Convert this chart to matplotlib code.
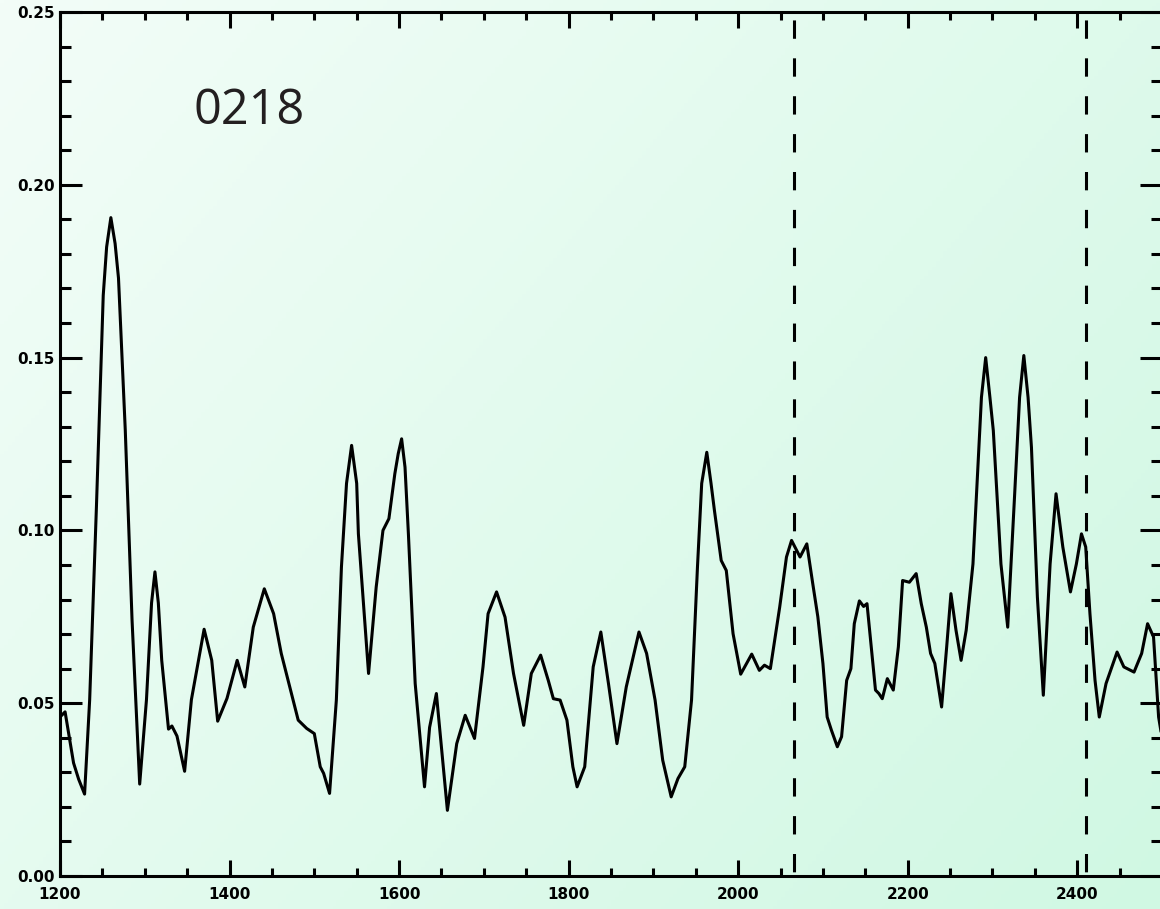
import numpy as np
import matplotlib
matplotlib.use("Agg")
import matplotlib.pyplot as plt
from matplotlib.ticker import MultipleLocator, FormatStrFormatter

# spectrum, read point by point
wave = [1200, 1206, 1216, 1222, 1229, 1235, 1243, 1251, 1255, 1260, 1265, 1269,
        1277, 1285, 1294, 1302, 1308, 1312, 1316, 1320, 1328, 1332, 1338, 1347, 1355, 1370,
        1379, 1386, 1397, 1409, 1418, 1428, 1441, 1452, 1461, 1471, 1481, 1491,
        1500, 1507, 1511, 1518, 1526, 1532, 1538, 1544, 1550, 1552, 1564, 1573, 1581, 1588,
        1595, 1599, 1603, 1607, 1611, 1619, 1630, 1636, 1644, 1657, 1668, 1678, 1689, 1699,
        1705, 1715, 1725, 1735, 1747, 1756, 1767, 1776, 1782, 1790, 1798, 1805,
        1810, 1819, 1829, 1838, 1847, 1857, 1868, 1883, 1892, 1902, 1911, 1921,
        1929, 1937, 1945, 1952, 1957, 1963, 1968, 1972, 1980, 1986, 1994, 2003, 2010, 2016,
        2025, 2031, 2038, 2049, 2057, 2063, 2073, 2081, 2088, 2094, 2100, 2105,
        2110, 2117, 2122, 2128, 2133, 2137, 2143, 2148, 2152, 2157, 2162, 2166,
        2170, 2176, 2183, 2189, 2194, 2202, 2210, 2216, 2222, 2227, 2232, 2240,
        2246, 2251, 2257, 2263, 2269, 2277, 2283, 2287, 2292, 2297, 2301, 2310, 2318, 2326,
        2332, 2337, 2342, 2346, 2353, 2360, 2368, 2375, 2383, 2392, 2399, 2405, 2410, 2415,
        2421, 2426, 2434, 2447, 2455, 2467, 2476, 2483, 2490, 2496, 2500]
flux = [0.046, 0.0475, 0.0327, 0.028, 0.0237, 0.051, 0.107, 0.168, 0.182, 0.1905, 0.183, 0.173,
        0.129, 0.074, 0.0266, 0.051, 0.079, 0.088, 0.079, 0.0624, 0.0425, 0.0434, 0.0405, 0.0303, 0.051, 0.0714,
        0.0624, 0.0448, 0.0514, 0.0624, 0.0547, 0.072, 0.0831, 0.0759, 0.0644, 0.0547, 0.0451, 0.0427,
        0.0412, 0.0316, 0.0297, 0.0239, 0.0509, 0.0894, 0.1136, 0.1246, 0.1136, 0.099, 0.0586, 0.0836, 0.100, 0.1034,
        0.1164, 0.1222, 0.1265, 0.1183, 0.099, 0.0557, 0.0258, 0.043, 0.0528, 0.019, 0.0383, 0.0465, 0.0398, 0.0605,
        0.0759, 0.0822, 0.0749, 0.0586, 0.0436, 0.0586, 0.0639, 0.0566, 0.0513, 0.0509, 0.0451, 0.0316,
        0.0258, 0.0316, 0.0605, 0.0706, 0.0557, 0.0383, 0.0547, 0.0706, 0.0644, 0.0509, 0.0335, 0.0229,
        0.0282, 0.0316, 0.0509, 0.0894, 0.1136, 0.1226, 0.1136, 0.1058, 0.0913, 0.0884, 0.0701, 0.0584, 0.0615, 0.0642,
        0.0595, 0.061, 0.060, 0.0778, 0.0923, 0.0971, 0.0923, 0.0961, 0.0846, 0.075, 0.0615, 0.046,
        0.0422, 0.0374, 0.0403, 0.0566, 0.060, 0.073, 0.0796, 0.078, 0.0788, 0.0663, 0.0538, 0.0528,
        0.0513, 0.0571, 0.0538, 0.0663, 0.0855, 0.0850, 0.0875, 0.0788, 0.072, 0.0644, 0.0615, 0.0489,
        0.0663, 0.0817, 0.0711, 0.0624, 0.0711, 0.0903, 0.1193, 0.1385, 0.150, 0.1385, 0.1289, 0.0903, 0.072, 0.1096,
        0.1385, 0.1506, 0.1385, 0.124, 0.0807, 0.0523, 0.0903, 0.1106, 0.0952, 0.0822, 0.0903, 0.099, 0.0952, 0.0759,
        0.0566, 0.046, 0.0557, 0.0648, 0.0605, 0.059, 0.0644, 0.073, 0.0692, 0.046, 0.040]
marks = [2066, 2410]
label = "0218"

assert len(wave) == len(flux)

fig = plt.figure(figsize=(11.6, 9.09), dpi=100)

# soft mint gradient behind everything
bg = fig.add_axes([0, 0, 1, 1], zorder=-10)
gx, gy = np.meshgrid(np.linspace(0, 1, 300), np.linspace(0, 1, 300))
t = (gx * 0.6 + gy * 0.4)
c0 = np.array([243, 253, 248]) / 255.0
c1 = np.array([208, 248, 227]) / 255.0
img = c0[None, None, :] * (1 - t[..., None]) + c1[None, None, :] * t[..., None]
bg.imshow(img, aspect="auto", extent=[0, 1, 0, 1], origin="upper")
bg.axis("off")

ax = fig.add_axes([60 / 1160, 33 / 909, 1102 / 1160, 864 / 909])
ax.set_facecolor("none")

ax.plot(wave, flux, color="black", lw=2.2, solid_joinstyle="round",
        solid_capstyle="round", zorder=3)
for xm in marks:
    ax.plot([xm, xm], [0.25, 0.0], color="black", lw=2.2,
            linestyle=(9.8, (6.0, 6.4)), zorder=2)

ax.set_xlim(1200, 2500)
ax.set_ylim(0, 0.25)

ax.xaxis.set_major_locator(MultipleLocator(200))
ax.xaxis.set_minor_locator(MultipleLocator(50))
ax.yaxis.set_major_locator(MultipleLocator(0.05))
ax.yaxis.set_minor_locator(MultipleLocator(0.01))
ax.yaxis.set_major_formatter(FormatStrFormatter("%.2f"))

for sp in ax.spines.values():
    sp.set_linewidth(2.2)

ax.tick_params(axis="both", which="both", direction="in", top=True, right=True,
               width=2.2, labelsize=11)
ax.tick_params(axis="x", which="major", length=11.5, pad=8)
ax.tick_params(axis="x", which="minor", length=5.5)
ax.tick_params(axis="y", which="major", length=16, pad=4)
ax.tick_params(axis="y", which="minor", length=8)
for lab in ax.get_xticklabels() + ax.get_yticklabels():
    lab.set_fontweight("bold")

ax.text(0.1207, 0.870, label, transform=ax.transAxes, ha="left", va="baseline",
        fontsize=35, family="Open Sans", color="#231f20")

fig.savefig("out.png", dpi=100)
